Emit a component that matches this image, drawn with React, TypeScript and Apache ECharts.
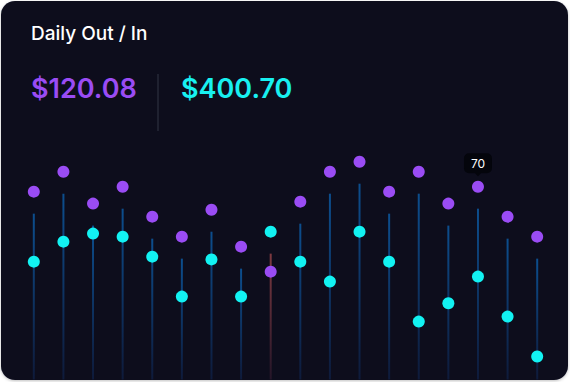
import React, { useEffect, useRef } from "react";
import * as echarts from "echarts";

const days = ["1", "2", "3", "4", "5", "6", "7", "8", "9", "10", "11", "12", "13", "14", "15", "16", "17", "18"];
const outValues = [68.2, 75.4, 63.9, 70, 59.2, 52.0, 61.7, 48.4, 39.4, 64.6, 75.4, 79.0, 68.2, 75.4, 63.9, 70, 59.2, 52.0];
const inValues = [43.0, 50.2, 53.1, 52.0, 44.8, 30.4, 43.8, 30.4, 53.8, 43.0, 35.8, 53.8, 43.0, 21.4, 28.0, 37.6, 23.2, 8.8];
const titleText = "Daily Out / In";
const outTotal = "$120.08";
const inTotal = "$400.70";
const highlightIndex = 15;

const W = 570;
const H = 382;
const FONT = "Inter, 'Noto Sans', sans-serif";

export default function App() {
  const ref = useRef<HTMLDivElement>(null);
  useEffect(() => {
    if (!ref.current) return;
    const chart = echarts.init(ref.current, undefined, { renderer: "svg", width: W, height: H });
    const lineData = days.map((_, i) => [i, outValues[i], inValues[i]]);
    chart.setOption({
      animation: false,
      backgroundColor: "#ffffff",
      graphic: [
        {
          type: "rect",
          z: -10,
          shape: { x: 1, y: 1, width: 567, height: 379, r: 14 },
          style: { fill: "#0a0c1e", shadowColor: "rgba(0,0,0,0.25)", shadowBlur: 3, shadowOffsetY: 1 },
        },
        {
          type: "text",
          x: 31,
          y: 33,
          style: { text: titleText, fill: "#ffffff", font: `500 19px ${FONT}`, verticalAlign: "middle" },
        },
        {
          type: "text",
          x: 31,
          y: 88,
          style: { text: outTotal, fill: "#9a4cf4", font: `600 27px ${FONT}`, verticalAlign: "middle" },
        },
        {
          type: "line",
          shape: { x1: 158, y1: 74, x2: 158, y2: 131 },
          style: { stroke: "#262937", lineWidth: 1.5 },
        },
        {
          type: "text",
          x: 181,
          y: 88,
          style: { text: inTotal, fill: "#18f0f0", font: `600 27px ${FONT}`, verticalAlign: "middle" },
        },
      ],
      grid: { left: 19, width: 533, top: 103.4, height: 277.6 },
      xAxis: {
        type: "category",
        data: days,
        show: false,
      },
      yAxis: { type: "value", min: 0, max: 100, show: false },
      series: [
        {
          type: "custom",
          data: lineData,
          renderItem: (params: any, api: any) => {
            const i = api.value(0);
            const o = api.value(1);
            const n = api.value(2);
            const top = api.coord([i, Math.max(o, n)]);
            const bottom = api.coord([i, 0]);
            const y1 = top[1] + 22;
            const y2 = bottom[1] - 1.5;
            const blue = o >= n;
            return {
              type: "rect",
              shape: { x: top[0] - 1, y: y1, width: 2, height: y2 - y1 },
              style: {
                fill: new echarts.graphic.LinearGradient(0, 0, 0, 1, [
                  { offset: 0, color: blue ? "#0c4e8e" : "#7e3a40" },
                  { offset: 1, color: blue ? "#0e1a3a" : "#241528" },
                ]),
              },
            };
          },
          z: 1,
        },
        {
          type: "scatter",
          data: outValues,
          symbolSize: 12,
          itemStyle: { color: "#9a4cf4", opacity: 1 },
          z: 3,
          markPoint: {
            symbol:
              "path://M5,0 H23 A5,5 0 0 1 28,5 V15 A5,5 0 0 1 23,20 H17 L14,23 L11,20 H5 A5,5 0 0 1 0,15 V5 A5,5 0 0 1 5,0 Z",
            symbolSize: [28, 23],
            symbolOffset: [0, -22],
            itemStyle: { color: "#04050c" },
            label: {
              show: true,
              color: "#ffffff",
              fontSize: 12,
              fontFamily: FONT,
              offset: [0, -1.5],
              formatter: (p: any) => String(p.value),
            },
            data: [{ coord: [highlightIndex, outValues[highlightIndex]], value: outValues[highlightIndex] }],
          },
        },
        {
          type: "scatter",
          data: inValues,
          symbolSize: 12,
          itemStyle: { color: "#12f2f2", opacity: 1 },
          z: 4,
        },
      ],
    });
    return () => chart.dispose();
  }, []);
  return <div ref={ref} style={{ position: "fixed", left: 0, top: 0, width: W, height: H }} />;
}
